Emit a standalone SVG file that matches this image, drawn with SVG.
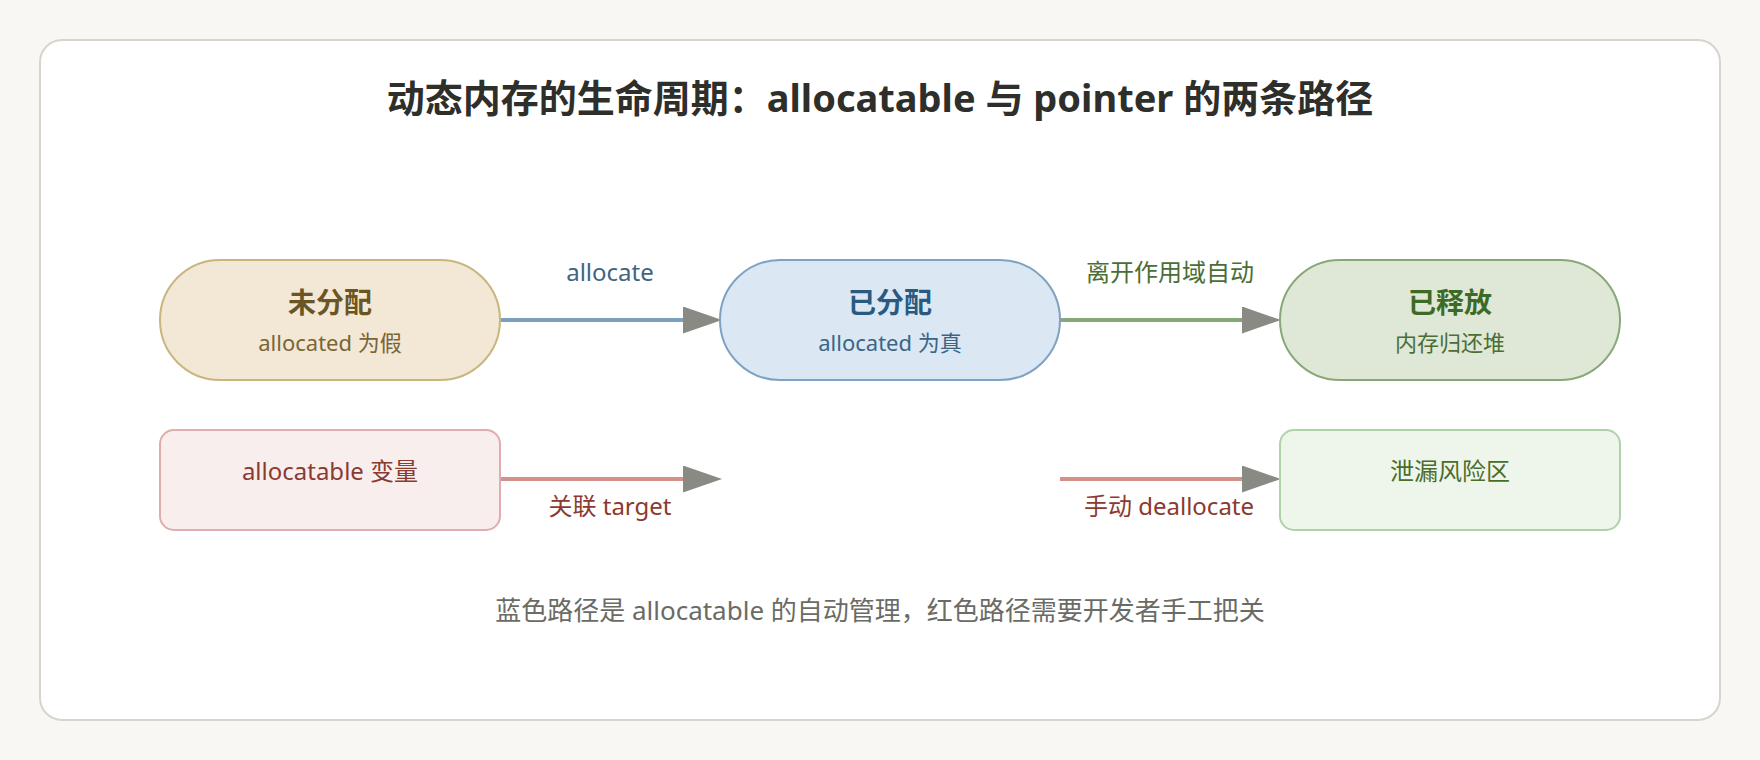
<svg xmlns="http://www.w3.org/2000/svg" width="1760" height="760" viewBox="0 0 1760 760">
<defs>
<style>
text{font-family:"Noto Sans","Noto Sans CJK SC",sans-serif;text-anchor:middle}
.title{font-size:38px;font-weight:700;fill:#2e2e2a}
.nt{font-size:28px;font-weight:700}
.ns{font-size:22px}
.lbl{font-size:24px}
.foot{font-size:26px;fill:#6b6b66}
.conn{stroke-width:4;fill:none}
</style>
<marker id="ah" viewBox="0 0 39 27" refX="0" refY="13.5" markerWidth="39" markerHeight="27" markerUnits="userSpaceOnUse" orient="auto">
<path d="M0,0 L39,13.5 L0,27 z" fill="#8a8a85"/>
</marker>
</defs>
<rect x="0" y="0" width="1760" height="760" fill="#f8f7f4"/>
<rect x="40" y="40" width="1680" height="680" rx="22" fill="#ffffff" stroke="#d8d5cd" stroke-width="2"/>
<text class="title" x="880" y="112">动态内存的生命周期：allocatable 与 pointer 的两条路径</text>

<g id="connectors">
<line class="conn" x1="500" y1="320" x2="683" y2="320" stroke="#7ba0bf" marker-end="url(#ah)"/>
<line class="conn" x1="1060" y1="320" x2="1242" y2="320" stroke="#87a67a" marker-end="url(#ah)"/>
<line class="conn" x1="500" y1="479" x2="683" y2="479" stroke="#d4908a" marker-end="url(#ah)"/>
<line class="conn" x1="1060" y1="479" x2="1242" y2="479" stroke="#d4908a" marker-end="url(#ah)"/>
<text class="lbl" x="610" y="281" fill="#3d6585">allocate</text>
<text class="lbl" x="1170" y="281" fill="#4a6e35">离开作用域自动</text>
<text class="lbl" x="610" y="515" fill="#8b3a2e">关联 target</text>
<text class="lbl" x="1169" y="515" fill="#8b3a2e">手动 deallocate</text>
</g>

<g id="unallocated">
<rect x="160" y="260" width="340" height="120" rx="60" fill="#f3e7d5" stroke="#c9b57f" stroke-width="2"/>
<text class="nt" x="330" y="313" fill="#6b5522">未分配</text>
<text class="ns" x="330" y="351" fill="#7a6535">allocated 为假</text>
</g>
<g id="allocated">
<rect x="720" y="260" width="340" height="120" rx="60" fill="#dbe7f3" stroke="#7ea2c2" stroke-width="2"/>
<text class="nt" x="890" y="313" fill="#2a5a80">已分配</text>
<text class="ns" x="890" y="351" fill="#3a6585">allocated 为真</text>
</g>
<g id="released">
<rect x="1280" y="260" width="340" height="120" rx="60" fill="#dfe8d6" stroke="#88a878" stroke-width="2"/>
<text class="nt" x="1450" y="313" fill="#3d6b25">已释放</text>
<text class="ns" x="1450" y="351" fill="#4a6e35">内存归还堆</text>
</g>
<g id="allocatable-var">
<rect x="160" y="430" width="340" height="100" rx="14" fill="#f9eeee" stroke="#e0acac" stroke-width="2"/>
<text class="lbl" x="330" y="480" fill="#8b3a2e">allocatable 变量</text>
</g>
<g id="leak-zone">
<rect x="1280" y="430" width="340" height="100" rx="14" fill="#eef6ec" stroke="#b0d2a8" stroke-width="2"/>
<text class="lbl" x="1450" y="480" fill="#4a6e2a">泄漏风险区</text>
</g>
<text class="foot" x="880" y="620">蓝色路径是 allocatable 的自动管理，红色路径需要开发者手工把关</text>
</svg>
